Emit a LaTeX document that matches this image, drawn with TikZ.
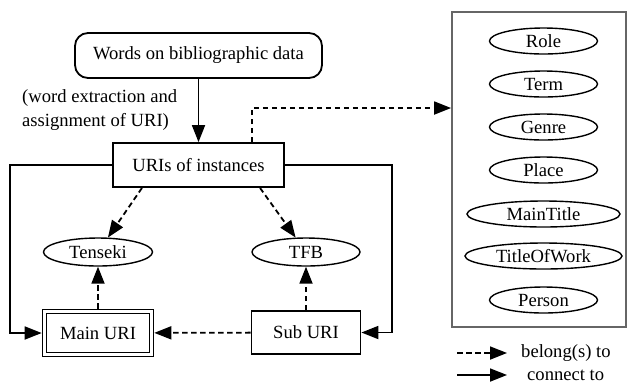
\documentclass[tikz,border=0pt]{standalone}
\usepackage{fontspec}
\setmainfont{Liberation Serif}
\usetikzlibrary{arrows.meta,shapes.geometric}
\begin{document}
\begin{tikzpicture}[x=1bp,y=-1bp,
  every node/.style={font=\fontsize{18.6bp}{24bp}\selectfont, inner sep=0pt},
  lw/.style={line width=1.8bp},
  rect/.style={draw, lw},
  oval/.style={draw, line width=1.4bp, ellipse, minimum height=26bp},
  conn/.style={lw, -{Triangle[length=17bp,width=13bp]}},
  bel/.style={conn, dash pattern=on 5.5bp off 3.5bp}]
\useasboundingbox (0,0) rectangle (630,390);

\node[rect, rounded corners=13bp, minimum width=247bp, minimum height=45bp] (words) at (198.5,55.5) {Words on bibliographic data};
\node[anchor=west, align=left] (lbl) at (22,110) {(word extraction and\\assignment of URI)};
\node[rect, minimum width=171bp, minimum height=44bp] (uri) at (198.5,165) {URIs of instances};
\node[oval, minimum width=109bp, minimum height=28bp] (tenseki) at (98,252) {Tenseki};
\node[oval, minimum width=108bp, minimum height=28bp] (tfb) at (306,252) {TFB};
\node[draw, line width=1.4bp, double, double distance=2.4bp, minimum width=107bp, minimum height=43bp, outer sep=2.8bp] (main) at (98,333) {Main URI};
\node[rect, minimum width=109bp, minimum height=43bp] (sub) at (306,332.5) {Sub URI};

\node[draw=black!60, lw, minimum width=174bp, minimum height=315bp] (panel) at (539,169.5) {};
\node[oval, minimum width=108bp] (role) at (543.5,41) {Role};
\node[oval, minimum width=108bp] (term) at (543.5,84) {Term};
\node[oval, minimum width=108bp] (genre) at (543.5,127) {Genre};
\node[oval, minimum width=108bp] (place) at (543.5,170) {Place};
\node[oval, minimum width=153bp] (maintitle) at (543.5,214) {MainTitle};
\node[oval, minimum width=157bp] (titleofwork) at (543.5,256) {TitleOfWork};
\node[oval, minimum width=108bp] (person) at (543.5,300) {Person};

\draw[conn] (words) -- (uri);
\draw[conn] (uri.west) -- ++(-102,0) |- (main.west);
\draw[conn] (uri.east) -- ++(107,0) |- (sub.east);
\draw[bel] ([xshift=53.5bp]uri.north) |- ([yshift=61.5bp]panel.west);
\draw[bel] ([xshift=-56.5bp]uri.south) -- (tenseki);
\draw[bel] ([xshift=61.5bp]uri.south) -- (tfb);
\draw[bel] (main) -- (tenseki);
\draw[bel] (sub) -- (tfb);
\draw[bel] (sub) -- (main);

\coordinate (la1) at (457,353);
\coordinate (lb1) at (507,353);
\node[anchor=west] (lt1) at (521,353) {belong(s) to};
\coordinate (la2) at (457,375);
\coordinate (lb2) at (507,375);
\node[anchor=west] (lt2) at (527,375) {connect to};
\draw[bel] (la1) -- (lb1);
\draw[conn] (la2) -- (lb2);
\end{tikzpicture}
\end{document}
